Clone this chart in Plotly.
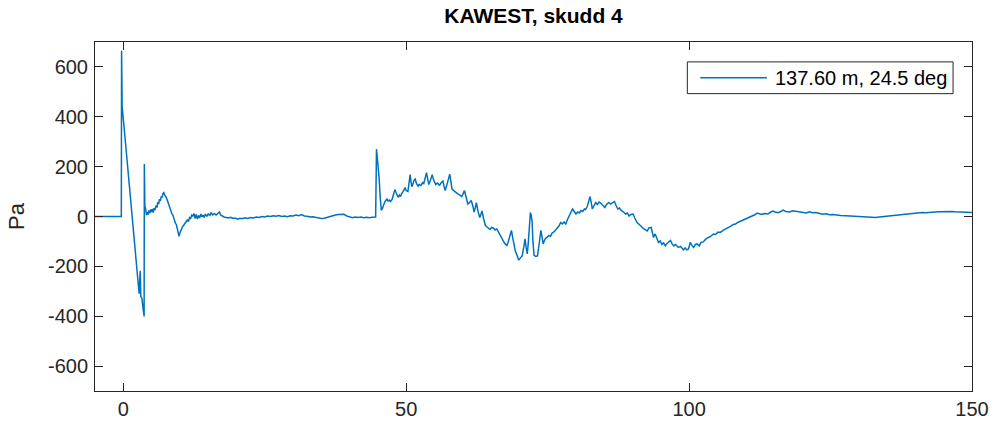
import plotly.graph_objects as go

# Pressure record, KAWEST shot 4: time in s, overpressure in Pa.
# Stored per segment of the record; each t list pairs with its p list.

# quiet lead-in, direct arrival and first negative phase
t_onset = [-5, -0.35, -0.3, -0.2, 0.3, 1.0, 1.8, 2.4, 2.8, 2.9,
           3.0, 3.1, 3.3, 3.5, 3.68, 3.72, 3.81]
p_onset = [0, 0, 665, 440, 318, 142, -58, -200, -310, -260,
           -218, -320, -330, -370, -401, 211, 42]

# early ringing
t_ring = [3.95, 4.1, 4.25, 4.4, 4.55, 4.7, 4.85, 5.0, 5.15, 5.3,
          5.45, 5.6, 5.8, 5.95, 6.1, 6.25, 6.4, 6.55, 6.7, 6.85,
          7.0, 7.15, 7.3, 7.45, 7.6, 7.8, 8.0, 8.2, 8.4, 8.6,
          8.8, 9.0, 9.2, 9.4, 9.55, 9.7, 9.85, 10.0, 10.15, 10.3,
          10.5, 10.7, 10.9, 11.1, 11.3, 11.5, 11.7, 11.9, 12.1, 12.3,
          12.5, 12.7, 12.9, 13.1, 13.3, 13.5, 13.7, 13.9, 14.1, 14.3,
          14.5, 14.8, 15.0, 15.3, 15.5, 15.8, 16.1, 16.4, 16.7, 17.0,
          17.2, 17.5, 17.8, 18.2]
p_ring = [30, 5, 18, 8, 24, 14, 28, 18, 30, 16,
          34, 26, 44, 36, 58, 50, 70, 62, 80, 76,
          92, 96, 88, 84, 76, 64, 50, 38, 22, 10,
          4, -14, -26, -34, -52, -62, -80, -66, -56, -48,
          -40, -34, -28, -22, -14, -20, -4, -8, 6, 2,
          12, -8, 8, -10, 4, -6, 10, -2, 6, -4,
          8, 2, 10, 4, 16, 6, 12, 6, 14, 18,
          6, 0, -2, -4]

# calm interval before the second arrival
t_calm = [18.6, 19.0, 19.4, 19.8, 20.2, 20.6, 21.0, 21.5, 22.0, 22.5,
          23.0, 23.5, 24.0, 24.5, 25.0, 25.5, 26.0, 26.5, 27.0, 27.5,
          28.0, 28.5, 29.0, 29.5, 30.0, 30.5, 31.0, 31.5, 32.0, 32.5,
          33.0, 33.5, 34.0, 34.5, 35.0, 35.5, 36.0, 36.5, 37.0, 37.5,
          38.0, 38.5, 39.0, 39.5, 40.0, 40.5, 41.0, 41.5, 42.0, 42.5,
          43.0, 43.5, 44.0, 44.4, 44.6]
p_calm = [-6, -3, -8, -6, -11, -7, -9, -5, -8, -4,
          -6, -2, -4, 0, -2, 2, 0, 3, 1, 4,
          0, 2, -1, 3, 2, 6, 3, 8, 2, 1,
          -2, -1, -4, -5, -8, -7, -3, 0, 4, 6,
          8, 10, 9, 2, -3, -5, -2, -4, -2, -5,
          -3, -5, -3, -4, -2]

# second arrival and its long positive/negative swing
t_swing = [44.75, 45.0, 45.2, 45.4, 45.6, 45.8, 46.0, 46.2, 46.4, 46.6,
           46.8, 47.0, 47.2, 47.5, 47.8, 48.0, 48.2, 48.4, 48.6, 48.8,
           49.0, 49.2, 49.4, 49.6, 49.8, 50.0, 50.3, 50.5, 50.7, 50.85,
           51.0, 51.2, 51.4, 51.6, 51.8, 52.1, 52.3, 52.6, 52.9, 53.1,
           53.4, 53.6, 53.8, 54.0, 54.2, 54.4, 54.6, 54.8, 55.0, 55.2,
           55.5, 55.9, 56.2, 56.5, 56.7, 56.9, 57.2, 57.5, 57.7, 57.9,
           58.1, 58.4, 58.7, 58.9, 59.2, 59.5, 59.8, 60.0, 60.3, 60.6,
           60.9, 61.2, 61.5, 61.8, 62.0, 62.2, 62.4, 62.7, 63.0, 63.2,
           63.4, 63.7, 64.0, 64.3, 64.6, 64.8, 65.1, 65.4, 65.7, 66.0,
           66.2, 66.5, 66.9, 67.2, 67.5, 67.8, 68.0, 68.3, 68.6, 68.8,
           69.0, 69.3, 69.6, 69.9, 70.2, 70.5, 70.8, 71.0, 71.2, 71.4,
           71.6, 71.8, 71.95, 72.1, 72.25, 72.4, 72.6, 72.9, 73.2, 73.5,
           73.8, 74.0, 74.2, 74.4, 74.6, 74.9, 75.2, 75.5, 75.8, 76.1,
           76.4, 76.7, 77.0, 77.3, 77.6, 77.9, 78.2, 78.5, 78.8]
p_swing = [270, 215, 160, 80, 25, 32, 48, 58, 64, 70,
           62, 66, 60, 68, 92, 108, 96, 82, 76, 86,
           80, 92, 98, 106, 116, 104, 100, 130, 168, 140,
           120, 130, 146, 150, 134, 122, 128, 124, 136, 132,
           160, 176, 150, 128, 140, 152, 168, 150, 134, 128,
           134, 126, 136, 142, 120, 104, 128, 160, 170, 140,
           110, 104, 98, 94, 90, 86, 80, 88, 104, 76,
           50, 56, 64, 40, 18, 34, 56, 20, -4, 8,
           22, -10, -36, -42, -48, -52, -44, -46, -54, -50,
           -58, -72, -90, -100, -110, -116, -104, -76, -56, -82,
           -110, -140, -156, -175, -166, -158, -120, -90, -124, -150,
           -100, -20, 16, 4, -20, -100, -156, -160, -158, -110,
           -56, -80, -110, -98, -88, -84, -76, -80, -66, -62,
           -54, -46, -38, -24, -30, -22, -30, -12, 2]

# second positive hump
t_hump = [79.1, 79.4, 79.7, 80.0, 80.3, 80.6, 80.9, 81.2, 81.5, 81.7,
          82.0, 82.3, 82.5, 82.7, 82.9, 83.2, 83.5, 83.8, 84.1, 84.4,
          84.7, 85.1, 85.4, 85.8, 86.1, 86.5, 86.8, 87.1, 87.4, 87.7,
          88.0, 88.3, 88.5, 88.8, 89.1, 89.4, 89.7, 90.1, 90.4, 90.8]
p_hump = [18, 30, 20, 10, 18, 14, 24, 20, 30, 28,
          40, 62, 80, 56, 30, 44, 56, 48, 58, 54,
          46, 36, 48, 56, 50, 54, 60, 44, 30, 34,
          24, 20, 16, 10, 14, 2, 8, 10, -6, -24]

# trough around 100 s
t_trough = [91.1, 91.4, 91.7, 92.0, 92.3, 92.6, 92.9, 93.3, 93.5, 93.7,
            94.0, 94.3, 94.6, 94.9, 95.2, 95.5, 95.8, 96.1, 96.4, 96.7,
            97.0, 97.3, 97.6, 98.1, 98.5, 98.8, 99.0, 99.3, 99.6, 99.9,
            100.2, 100.5, 100.8, 101.1, 101.4, 101.8, 102.1, 102.5, 102.9, 103.4,
            103.8, 104.3, 104.7, 105.1, 105.5, 106.0, 106.4, 106.9, 107.3, 107.8,
            108.2, 108.6, 109.0, 109.5, 109.9, 110.4, 110.8, 111.3, 111.7, 112.0]
p_trough = [-30, -38, -42, -50, -54, -58, -46, -44, -64, -84,
            -70, -86, -104, -98, -112, -106, -118, -108, -100, -96,
            -110, -118, -112, -124, -120, -130, -134, -126, -134, -130,
            -104, -116, -124, -112, -110, -118, -104, -102, -92, -84,
            -80, -70, -72, -62, -64, -56, -52, -44, -40, -32,
            -30, -24, -20, -16, -12, -8, -2, 4, 8, 14]

# slow tail to the end of the record
t_tail = [112.4, 112.8, 113.3, 113.9, 114.3, 114.8, 115.2, 115.7, 116.2, 116.6,
          117.1, 117.8, 118.3, 118.9, 119.5, 120.1, 120.7, 121.3, 121.8, 122.4,
          123.0, 123.6, 124.2, 124.8, 125.4, 126.0, 126.8, 127.7, 128.4, 129.0,
          129.8, 130.6, 131.3, 132.0, 132.6, 133.0, 133.6, 134.2, 134.8, 135.3,
          136.0, 136.7, 137.4, 138.2, 138.9, 139.6, 140.4, 141.2, 141.8, 142.4,
          143.0, 143.5, 144.1, 144.7, 145.3, 145.9, 146.5, 147.0, 147.6, 148.2,
          148.7, 149.1, 149.6, 150.0]
p_tail = [10, 8, 12, 10, 16, 22, 18, 15, 20, 26,
          20, 18, 23, 21, 17, 18, 14, 19, 15, 16,
          11, 9, 11, 7, 8, 5, 4, 3, 2, 1,
          0, -1, -2, -3, -2, -4, -2, -1, 1, 3,
          4, 6, 7, 9, 11, 12, 14, 16, 15, 15,
          17, 18, 19, 20, 21, 22, 20, 19, 19, 18,
          17, 17, 16, 16]

segments = [
    (t_onset, p_onset), (t_ring, p_ring), (t_calm, p_calm), (t_swing, p_swing),
    (t_hump, p_hump), (t_trough, p_trough), (t_tail, p_tail),
]
time_s, pressure_pa = [], []
for t_seg, p_seg in segments:
    assert len(t_seg) == len(p_seg), (len(t_seg), len(p_seg))
    time_s += t_seg
    pressure_pa += p_seg

series_label = "137.60 m, 24.5 deg"
x_ticks = [0, 50, 100, 150]
y_ticks = [-600, -400, -200, 0, 200, 400, 600]
y_tick_text = [str(v) for v in y_ticks]

LINE_BLUE = "#0072BD"
AXIS_GREY = "#262626"
FONT = "Liberation Sans, Arial, sans-serif"

fig = go.Figure(
    go.Scatter(
        x=time_s,
        y=pressure_pa,
        mode="lines",
        name=series_label,
        line=dict(color=LINE_BLUE, width=1.5),
        showlegend=False,
    )
)

axis_common = dict(
    showgrid=False,
    zeroline=False,
    showline=True,
    linecolor=AXIS_GREY,
    linewidth=1,
    mirror="allticks",
    ticks="inside",
    ticklen=8,
    tickwidth=1,
    tickcolor=AXIS_GREY,
    tickfont=dict(family=FONT, size=20, color=AXIS_GREY),
)

fig.update_layout(
    width=1001,
    height=432,
    margin=dict(l=95, r=25, t=42, b=39),
    paper_bgcolor="white",
    plot_bgcolor="white",
    title=dict(
        text="<b>KAWEST, skudd 4</b>",
        x=0.5,
        xref="paper",
        xanchor="center",
        y=1 - 16 / 432,
        yanchor="middle",
        font=dict(family=FONT, size=21, color="black"),
    ),
    xaxis=dict(range=[-5, 150], tickvals=x_ticks, **axis_common),
    yaxis=dict(
        range=[-700, 700],
        tickvals=y_ticks,
        ticktext=y_tick_text,
        ticklabelstandoff=2,
        title=dict(text="Pa", font=dict(family=FONT, size=22, color=AXIS_GREY), standoff=17),
        **axis_common,
    ),
)

# Legend box drawn in the upper-right corner of the axes
fig.add_shape(
    type="rect", xref="paper", yref="paper",
    x0=0.6754, x1=0.9784, y0=0.852, y1=0.943,
    line=dict(color=AXIS_GREY, width=1), fillcolor="white", layer="above",
)
fig.add_shape(
    type="line", xref="paper", yref="paper",
    x0=0.6901, x1=0.7662, y0=0.8974, y1=0.8974,
    line=dict(color=LINE_BLUE, width=1.5), layer="above",
)
fig.add_annotation(
    xref="paper", yref="paper", x=0.773, y=0.8974,
    xanchor="left", yanchor="middle", showarrow=False,
    text=series_label, font=dict(family=FONT, size=20, color="black"),
)

fig.write_html("out.html")
